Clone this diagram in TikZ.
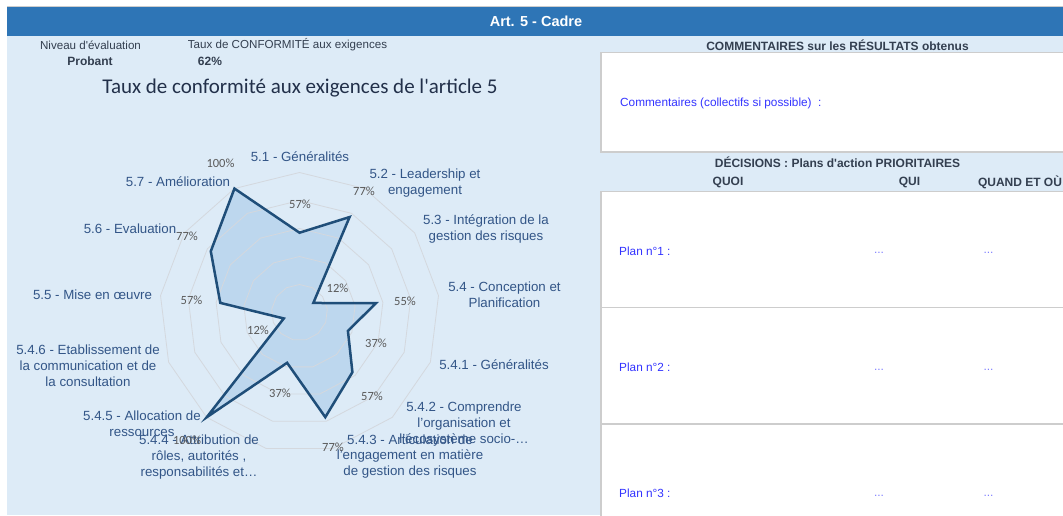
\documentclass[tikz,border=0pt]{standalone}
\usepackage{fontspec}
\setmainfont{Liberation Sans}
\newfontfamily\calfont{Carlito}
\definecolor{hdrblue}{RGB}{46,117,182}
\definecolor{bgblue}{RGB}{221,235,247}
\definecolor{polyfill}{RGB}{189,215,238}
\definecolor{polyline}{RGB}{31,78,121}
\definecolor{gridgray}{RGB}{212,216,222}
\definecolor{catblue}{RGB}{50,85,135}
\definecolor{pctgray}{RGB}{89,89,89}
\definecolor{titlecol}{RGB}{34,48,74}
\definecolor{darktxt}{RGB}{51,63,80}
\definecolor{linkblue}{RGB}{51,51,255}
\definecolor{dotblue}{RGB}{128,128,255}
\definecolor{boxgray}{RGB}{205,205,205}
\begin{document}
\begin{tikzpicture}[x=1pt,y=-1pt,
  cat/.style={font=\fontsize{13.3}{15.8}\selectfont, text=catblue, align=center, inner sep=0pt},
  pct/.style={font=\calfont\fontsize{12.5}{14}\selectfont, text=pctgray, inner sep=0pt},
  small/.style={font=\fontsize{11.6}{14}\selectfont, text=darktxt, inner sep=0pt},
  smallbold/.style={font=\bfseries\fontsize{12}{14}\selectfont, text=darktxt, inner sep=0pt},
  blue/.style={font=\fontsize{11.8}{14}\selectfont, text=linkblue, inner sep=0pt, anchor=west},
  dots/.style={font=\fontsize{12}{14}\selectfont, text=dotblue, inner sep=0pt},
  gridring/.style={draw=gridgray, line width=0.8pt},
  databox/.style={draw=boxgray, line width=1.5pt, fill=white}]
\useasboundingbox (0,0) rectangle (1063,515);
\fill[white] (0,0) rectangle (1063,515);
% backgrounds
\fill[bgblue] (7,36) rectangle (1063,515);
\fill[hdrblue] (7,7) rectangle (1063,36);
\draw[boxgray, line width=1pt] (7,6.5) -- (1063,6.5);
\node[font=\bfseries\fontsize{14.5}{16}\selectfont, text=white, inner sep=0pt] (hdr) at (536,21) {Art. 5 - Cadre};
% left top texts
\node[small] (niv) at (90.5,45) {Niveau d\textquotesingle évaluation};
\node[smallbold] (prob) at (90,61) {Probant};
\node[small] (taux) at (287.5,45) {Taux de CONFORMITÉ aux exigences};
\node[smallbold] (pc) at (210,61) {62\%};
\node[font=\calfont\fontsize{21}{24}\selectfont, text=titlecol, inner sep=0pt] (title) at (300,88) {Taux de conformité aux exigences de l\textquotesingle article 5};
% right panel
\node[smallbold] (comh) at (837.5,45) {COMMENTAIRES sur les RÉSULTATS obtenus};
\draw[databox] (600.75,52.5) rectangle (1066,152);
\node[blue] (com) at (620,103) {Commentaires (collectifs si possible)\ \ :};
\node[smallbold] (dech) at (837.5,162) {DÉCISIONS : Plans d\textquotesingle action PRIORITAIRES};
\node[smallbold] (quoi) at (728,182) {QUOI};
\node[smallbold] (qui) at (909.5,182) {QUI};
\node[smallbold] (quand) at (1020,182) {QUAND ET OÙ};
\draw[databox] (600.75,191.5) rectangle (1066,307.5);
\draw[databox] (600.75,307.5) rectangle (1066,424);
\draw[databox] (600.75,424) rectangle (1066,520);
\node[blue] (p1) at (619,251) {Plan n°1 :};
\node[blue] (p2) at (619,367) {Plan n°2 :};
\node[blue] (p3) at (619,493) {Plan n°3 :};
\node[dots] (p1a) at (879,253) {...};
\node[dots] (p1b) at (988.5,253) {...};
\node[dots] (p2a) at (879,370) {...};
\node[dots] (p2b) at (988.5,370) {...};
\node[dots] (p3a) at (879,496) {...};
\node[dots] (p3b) at (988.5,496) {...};
% radar chart
\begin{scope}[shift={(299.5,312.5)}]
  \foreach \v [count=\i from 0] in {57,77,12,55,37,57,77,37,100,12,57,77,100}
    \coordinate (d\i) at ({\i*360/13-90}:{\v*1.4});
  \fill[polyfill] (d0) -- (d1) -- (d2) -- (d3) -- (d4) -- (d5) -- (d6) -- (d7) -- (d8) -- (d9) -- (d10) -- (d11) -- (d12) -- cycle;
  \foreach \r in {28,56,84,112,140}
    \draw[gridring] (-90:\r) \foreach \j in {1,...,12} { -- ({\j*360/13-90}:\r) } -- cycle;
  \draw[polyline, line width=2.5pt, line join=miter] (d0) -- (d1) -- (d2) -- (d3) -- (d4) -- (d5) -- (d6) -- (d7) -- (d8) -- (d9) -- (d10) -- (d11) -- (d12) -- cycle;
\end{scope}
% category labels
\node[cat] (c1) at (300,157) {5.1 - Généralités};
\node[cat] (c2) at (425,183) {5.2 - Leadership et\\engagement};
\node[cat] (c3) at (486,229) {5.3 - Intégration de la\\gestion des risques};
\node[cat] (c4) at (504.5,295) {5.4 - Conception et\\Planification};
\node[cat] (c41) at (494,365) {5.4.1 - Généralités};
\node[cat] (c42) at (464,424) {5.4.2 - Comprendre\\l’organisation et\\l’écosystème socio-…};
\node[cat] (c43) at (410,456.5) {5.4.3 - Articulation de\\l’engagement en matière\\de gestion des risques};
\node[cat] (c44) at (199,457) {5.4.4 - Attribution de\\rôles, autorités ,\\responsabilités et…};
\node[cat] (c45) at (142,423.5) {5.4.5 - Allocation de\\ressources};
\node[cat] (c46) at (88,365.5) {5.4.6 - Etablissement de\\la communication et de\\la consultation};
\node[cat] (c5) at (92.5,295) {5.5 - Mise en œuvre};
\node[cat] (c6) at (130,229) {5.6 - Evaluation};
\node[cat] (c7) at (178,182) {5.7 - Amélioration};
% data labels
\node[pct] (v1) at (300,204) {57\%};
\node[pct] (v2) at (364,191) {77\%};
\node[pct] (v3) at (337.5,288) {12\%};
\node[pct] (v4) at (405,301) {55\%};
\node[pct] (v41) at (376,343) {37\%};
\node[pct] (v42) at (372,396) {57\%};
\node[pct] (v43) at (333,447) {77\%};
\node[pct] (v44) at (280,393) {37\%};
\node[pct] (v45) at (187,440) {100\%};
\node[pct] (v46) at (258,330) {12\%};
\node[pct] (v5) at (191.5,300) {57\%};
\node[pct] (v6) at (187,236) {77\%};
\node[pct] (v7) at (220.5,163) {100\%};
\end{tikzpicture}
\end{document}
